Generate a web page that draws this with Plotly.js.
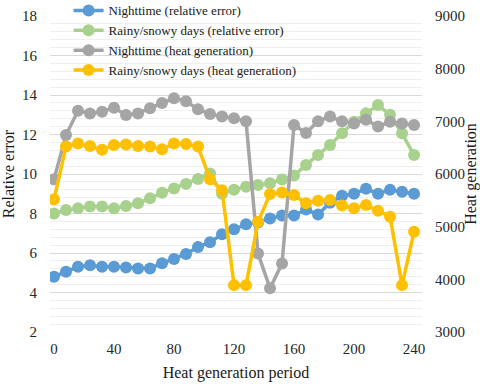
<!DOCTYPE html>
<html>
<head>
<meta charset="utf-8">
<script src="https://cdn.plot.ly/plotly-3.0.1.min.js"></script>
<style>
  html, body { margin: 0; padding: 0; background: #fff; }
  #chart { width: 480px; height: 384px; }
</style>
</head>
<body>
<div id="chart"></div>
<script>
// heat generation period, one point every 8 units
const period = [0, 8, 16, 24, 32, 40, 48, 56, 64, 72, 80, 88, 96, 104, 112, 120,
    128, 136, 144, 152, 160, 168, 176, 184, 192, 200, 208, 216, 224, 232, 240];

// relative error (left axis)
const nightErr = [4.8, 5.05, 5.3, 5.38, 5.3, 5.3, 5.27, 5.22, 5.22, 5.48, 5.7, 5.95, 6.3, 6.55, 6.95, 7.2,
    7.45, 7.55, 7.75, 7.9, 7.9, 8.2, 7.95, 8.55, 8.9, 9.0, 9.25, 9.0, 9.2, 9.1, 9.0];
const rainErr = [8.0, 8.18, 8.26, 8.35, 8.35, 8.26, 8.38, 8.52, 8.77, 9.05, 9.27, 9.5, 9.75, 10.03, 9.0, 9.2,
    9.36, 9.44, 9.53, 9.72, 9.92, 10.46, 10.96, 11.47, 12.06, 12.65, 13.07, 13.49, 13.0, 12.06, 10.96];

// heat generation (right axis)
const nightHeat = [5900, 6740, 7200, 7150, 7180, 7260, 7120, 7150, 7250, 7350, 7440, 7380, 7230, 7140, 7090, 7060,
    7000, 4490, 3830, 4300, 6930, 6780, 7000, 7090, 7000, 6960, 7030, 6900, 6990, 6960, 6930];
const rainHeat = [5520, 6520, 6580, 6530, 6460, 6550, 6560, 6530, 6520, 6470, 6580, 6570, 6520, 5900, 5690, 3890,
    3890, 5095, 5620, 5650, 5600, 5444, 5490, 5507, 5400, 5350, 5412, 5300, 5190, 3890, 4905];

const seriesNames = ['Nighttime (relative error)', 'Rainy/snowy days (relative error)',
    'Nighttime (heat generation)', 'Rainy/snowy days (heat generation)'];
const seriesColors = ['#5b9bd5', '#a9d18e', '#a5a5a5', '#ffc000'];

function makeTrace(values, i, axis) {
    return {
        x: period,
        y: values,
        yaxis: axis,
        name: seriesNames[i],
        type: 'scatter',
        mode: 'lines+markers',
        line: { color: seriesColors[i], width: 3.5 },
        marker: { color: seriesColors[i], size: 12 },
        hoverinfo: 'skip'
    };
}

const data = [
    makeTrace(nightErr, 0, 'y'),
    makeTrace(rainErr, 1, 'y'),
    makeTrace(nightHeat, 2, 'y2'),
    makeTrace(rainHeat, 3, 'y2')
];

const serif = 'Liberation Serif';
const tickFont = { family: serif, size: 15, color: '#262626' };
const titleFont = { family: serif, size: 16, color: '#1a1a1a' };

const layout = {
    width: 480,
    height: 384,
    margin: { l: 50, r: 58, t: 16, b: 52, autoexpand: false },
    paper_bgcolor: '#fff',
    plot_bgcolor: '#fff',
    font: { family: serif, size: 15, color: '#262626' },
    showlegend: true,
    legend: {
        x: 0.05, y: 1.065, xanchor: 'left', yanchor: 'top',
        bgcolor: 'rgba(0,0,0,0)',
        font: { family: serif, size: 13, color: '#1a1a1a' },
        tracegroupgap: 0
    },
    xaxis: {
        range: [-2.67, 245.3],
        tickvals: [0, 40, 80, 120, 160, 200, 240],
        tickfont: tickFont,
        showgrid: false,
        zeroline: false,
        showline: false,
        ticks: '',
        ticklabelstandoff: 6,
        title: { text: 'Heat generation period', font: titleFont, standoff: 10 }
    },
    yaxis: {
        range: [2, 18],
        dtick: 2,
        tickfont: tickFont,
        showgrid: true,
        gridcolor: '#d9d9d9',
        zeroline: false,
        showline: false,
        ticks: '',
        ticklabelstandoff: 12,
        minor: { dtick: 0.4, showgrid: true, gridcolor: '#efefef' },
        title: { text: 'Relative error', font: titleFont, standoff: 6 }
    },
    yaxis2: {
        range: [3000, 9000],
        dtick: 1000,
        tickfont: tickFont,
        overlaying: 'y',
        side: 'right',
        showgrid: false,
        zeroline: false,
        showline: false,
        ticks: '',
        ticklabelstandoff: 12,
        title: { text: 'Heat generation', font: titleFont, standoff: 0 }
    }
};

Plotly.newPlot('chart', data, layout, { displayModeBar: false, staticPlot: true });
</script>
</body>
</html>
